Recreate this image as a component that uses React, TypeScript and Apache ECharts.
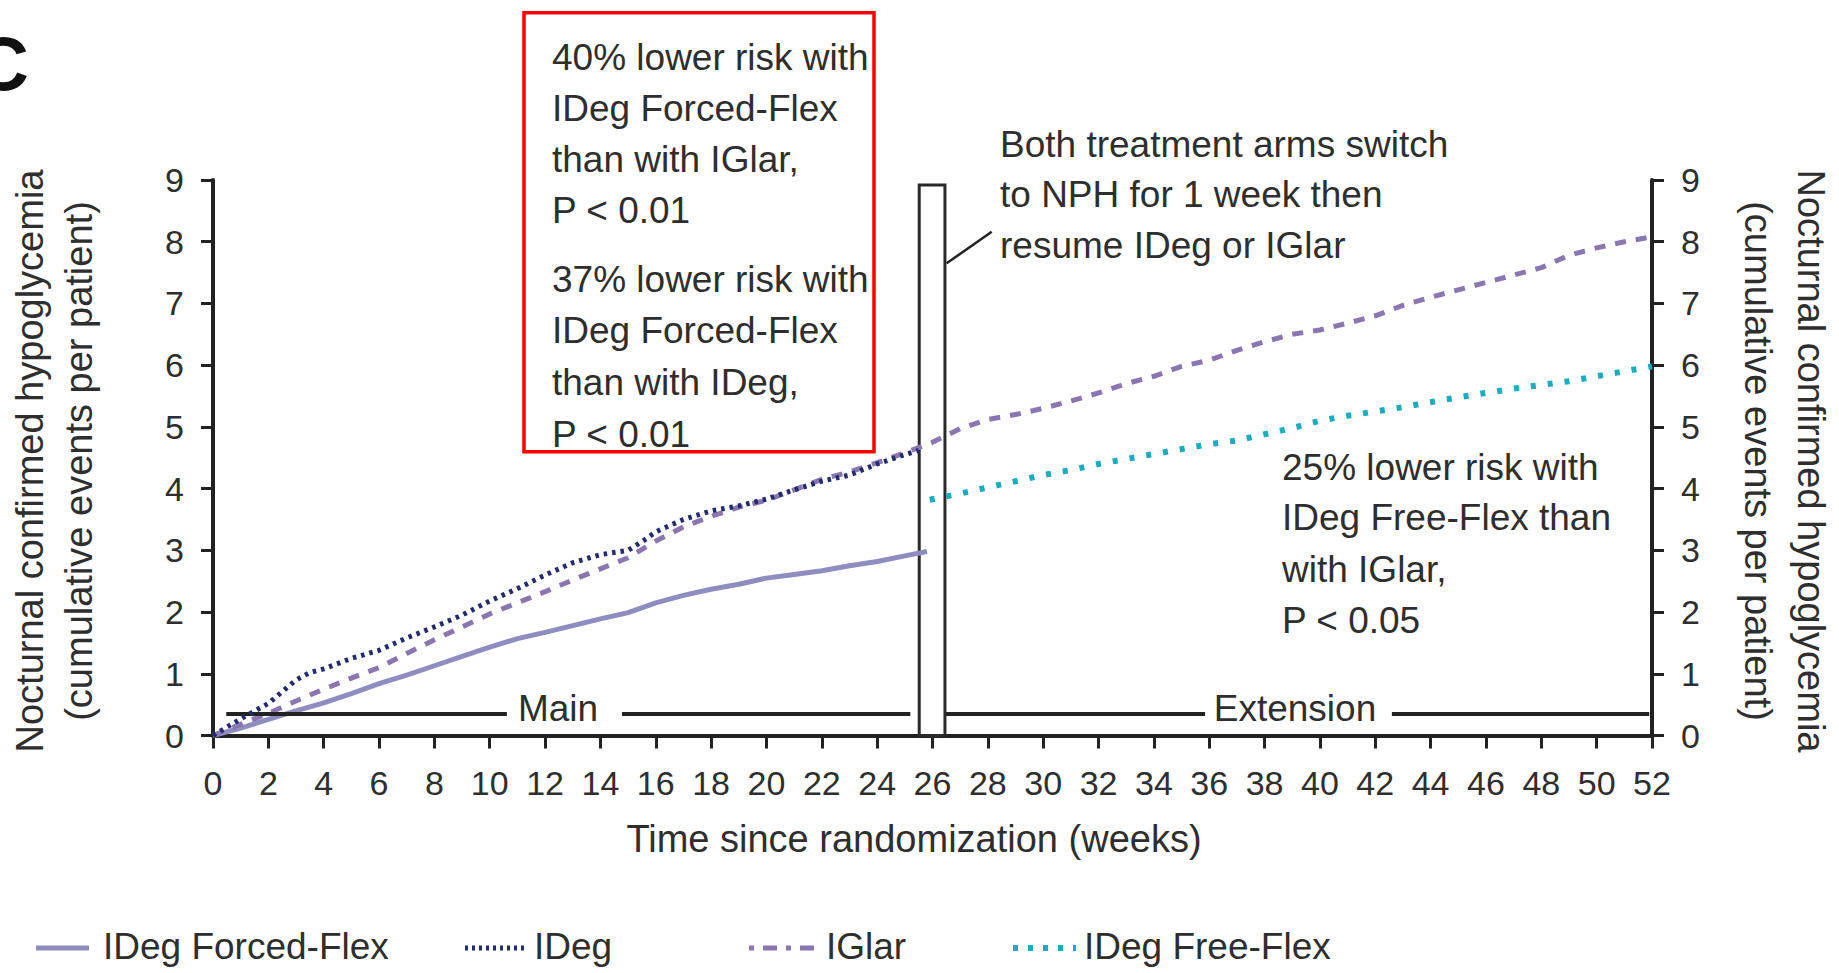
import React, { useEffect, useRef } from "react";
import * as echarts from "echarts";

const FONT = "'Liberation Sans', Arial, Helvetica, sans-serif";
const TEXT = "#2e2e2e";
const AXIS = "#222222";

// Cumulative nocturnal confirmed hypoglycemic events per patient, by week
const forcedFlexWeeks = [0, 1, 2, 3, 4, 5, 6, 7, 8, 9, 10, 11, 12, 13, 14, 14.6, 15, 16, 17, 18, 19, 20, 21, 22, 23, 24, 25, 25.8];
const forcedFlexValues = [0, 0.12, 0.26, 0.4, 0.53, 0.68, 0.84, 0.98, 1.13, 1.28, 1.43, 1.57, 1.67, 1.78, 1.89, 1.95, 1.99, 2.15, 2.27, 2.37, 2.45, 2.55, 2.61, 2.67, 2.75, 2.82, 2.91, 2.98];

const idegWeeks = [0, 1, 2, 3, 3.5, 4, 5, 6, 7, 8, 9, 10, 11, 12, 13, 14, 15, 15.6, 16, 17, 18, 19, 20, 21, 22, 23, 24, 25, 25.5];
const idegValues = [0, 0.27, 0.52, 0.9, 1.02, 1.08, 1.25, 1.38, 1.58, 1.76, 1.95, 2.18, 2.38, 2.6, 2.8, 2.93, 3.0, 3.17, 3.3, 3.5, 3.64, 3.72, 3.83, 3.98, 4.12, 4.22, 4.4, 4.55, 4.62];

const iglarWeeks = [0, 1, 2, 3, 4, 5, 6, 7, 8, 9, 10, 11, 12, 13, 14, 15, 16, 17, 18, 19, 20, 21, 22, 23, 24, 25, 26, 27, 28, 29, 30, 31, 32, 33, 34, 35, 36, 37, 38, 39, 40, 41, 42, 43, 44, 45, 46, 47, 48, 49, 50, 51, 52];
const iglarValues = [0, 0.18, 0.36, 0.56, 0.75, 0.93, 1.1, 1.33, 1.55, 1.76, 1.97, 2.15, 2.33, 2.52, 2.7, 2.88, 3.15, 3.38, 3.55, 3.7, 3.81, 3.98, 4.15, 4.27, 4.42, 4.58, 4.75, 4.97, 5.12, 5.2, 5.3, 5.42, 5.55, 5.7, 5.82, 5.98, 6.08, 6.24, 6.38, 6.5, 6.57, 6.68, 6.8, 6.97, 7.1, 7.22, 7.34, 7.46, 7.58, 7.78, 7.9, 8.0, 8.08];

const freeFlexWeeks = [25.9, 27, 28, 29, 30, 31, 32, 33, 34, 35, 36, 37, 38, 39, 40, 41, 42, 43, 44, 45, 46, 47, 48, 49, 50, 51, 52];
const freeFlexValues = [3.82, 3.92, 4.02, 4.12, 4.22, 4.3, 4.4, 4.48, 4.56, 4.64, 4.72, 4.78, 4.88, 4.98, 5.1, 5.18, 5.25, 5.32, 5.4, 5.48, 5.55, 5.62, 5.68, 5.74, 5.82, 5.9, 5.98];

// Study-phase markers (weeks) and the NPH switch week window
const nphWindow = [25.52, 26.45];
const nphBoxTop = 8.92;
const bracketLevel = 0.35;
const mainSegments = [[0.48, 10.62], [14.78, 25.2]];
const extensionSegments = [[26.47, 35.85], [42.6, 51.9]];
const calloutLine = [[26.51, 7.65], [28.14, 8.16]];

const seriesNames = ["IDeg Forced-Flex", "IDeg", "IGlar", "IDeg Free-Flex"];
const seriesColors = ["#8f8dc0", "#222b6e", "#8a77b2", "#1aadbf"];

const redBoxLines = [
  "40% lower risk with",
  "IDeg Forced-Flex",
  "than with IGlar,",
  "P < 0.01",
  "37% lower risk with",
  "IDeg Forced-Flex",
  "than with IDeg,",
  "P < 0.01",
];
const redBoxBaselines = [70, 121, 172, 223, 292, 343, 395, 447];

const switchLines = ["Both treatment arms switch", "to NPH for 1 week then", "resume IDeg or IGlar"];
const switchBaselines = [157, 207, 258];

const freeFlexLines = ["25% lower risk with", "IDeg Free-Flex than", "with IGlar,", "P < 0.05"];
const freeFlexBaselines = [480, 530, 582, 633];

const zip = (xs: number[], ys: number[]) => xs.map((x, i) => [x, ys[i]]);

const textEl = (text: string, x: number, y: number, size: number, extra: any = {}) => ({
  type: "text",
  x,
  y,
  silent: true,
  z: 50,
  ...extra,
  style: {
    text,
    fill: TEXT,
    fontSize: size,
    fontFamily: FONT,
    align: extra.align || "left",
    textAlign: extra.align || "left",
    verticalAlign: "middle",
    textVerticalAlign: "middle",
    ...(extra.style || {}),
  },
});

const baselineLines = (lines: string[], baselines: number[], x: number, size: number) =>
  lines.map((t, i) => textEl(t, x, baselines[i] - size * 0.33, size));

const hSegments = (segs: number[][]) =>
  segs.map((s) => [{ coord: [s[0], bracketLevel] }, { coord: [s[1], bracketLevel] }]);

const legendItems = [
  { x1: 36, x2: 89, tx: 103, dash: null as number[] | null, width: 5 },
  { x1: 465, x2: 527, tx: 534, dash: [3, 4], width: 5 },
  { x1: 749, x2: 817, tx: 826, dash: [5, 9, 14, 9], width: 5 },
  { x1: 1013, x2: 1076, tx: 1084, dash: [5, 10], width: 6 },
];

const buildOption = () => {
  const yAxisBase = {
    type: "value",
    min: 0,
    max: 9,
    interval: 1,
    axisLine: { show: true, lineStyle: { color: AXIS, width: 4 } },
    axisTick: { show: true, inside: false, length: 12, lineStyle: { color: AXIS, width: 3 } },
    axisLabel: { color: TEXT, fontSize: 34, fontFamily: FONT, margin: 29 },
    splitLine: { show: false },
  };

  const legendGraphics: any[] = [];
  legendItems.forEach((it, i) => {
    legendGraphics.push({
      type: "line",
      silent: true,
      shape: { x1: it.x1, y1: 948, x2: it.x2, y2: 948 },
      style: { stroke: seriesColors[i], lineWidth: it.width, lineDash: it.dash || undefined },
    });
    legendGraphics.push(textEl(seriesNames[i], it.tx, 946, 37));
  });

  return {
    animation: false,
    backgroundColor: "#ffffff",
    grid: { left: 213, right: 187, top: 180, bottom: 237.5, containLabel: false, outerBoundsMode: "none" },
    xAxis: {
      type: "value",
      min: 0,
      max: 52,
      interval: 2,
      axisLine: { show: true, onZero: false, lineStyle: { color: AXIS, width: 4 } },
      axisTick: { show: true, inside: false, length: 13, lineStyle: { color: AXIS, width: 3 } },
      axisLabel: { color: TEXT, fontSize: 34, fontFamily: FONT, margin: 30 },
      splitLine: { show: false },
    },
    yAxis: [
      { ...yAxisBase, position: "left" },
      { ...yAxisBase, position: "right" },
    ],
    series: [
      {
        name: seriesNames[0],
        type: "line",
        data: zip(forcedFlexWeeks, forcedFlexValues),
        symbol: "none",
        smooth: false,
        lineStyle: { color: seriesColors[0], width: 5, type: "solid" },
        z: 3,
      },
      {
        name: seriesNames[2],
        type: "line",
        data: zip(iglarWeeks, iglarValues),
        symbol: "none",
        lineStyle: { color: seriesColors[2], width: 5, type: [11, 10], cap: "butt" },
        z: 4,
        markArea: {
          silent: true,
          itemStyle: { color: "rgba(0,0,0,0)", borderColor: "#2a2a2a", borderWidth: 3 },
          label: { show: false },
          data: [[{ coord: [nphWindow[0], 0] }, { coord: [nphWindow[1], nphBoxTop] }]],
        },
        markLine: {
          silent: true,
          symbol: ["none", "none"],
          label: { show: false },
          lineStyle: { color: AXIS, width: 4, type: "solid" },
          data: [
            ...hSegments(mainSegments),
            ...hSegments(extensionSegments),
            [
              { coord: calloutLine[0], lineStyle: { width: 2.5, color: AXIS, type: "solid" } },
              { coord: calloutLine[1] },
            ],
          ],
        },
      },
      {
        name: seriesNames[1],
        type: "line",
        data: zip(idegWeeks, idegValues),
        symbol: "none",
        lineStyle: { color: seriesColors[1], width: 5, type: [3.5, 5], cap: "butt" },
        z: 5,
      },
      {
        name: seriesNames[3],
        type: "line",
        data: zip(freeFlexWeeks, freeFlexValues),
        symbol: "none",
        lineStyle: { color: seriesColors[3], width: 6, type: [5, 12], cap: "butt" },
        z: 5,
      },
    ],
    graphic: [
      // panel letter
      textEl("C", -26, 63, 76, { style: { fill: "#111", fontWeight: "bold" } }),
      // axis titles
      textEl("Nocturnal confirmed hypoglycemia", 30, 461, 38, { rotation: Math.PI / 2, align: "center" }),
      textEl("(cumulative events per patient)", 79, 461, 38, { rotation: Math.PI / 2, align: "center" }),
      textEl("Nocturnal confirmed hypoglycemia", 1811, 461, 38, { rotation: -Math.PI / 2, align: "center" }),
      textEl("(cumulative events per patient)", 1758, 461, 38, { rotation: -Math.PI / 2, align: "center" }),
      textEl("Time since randomization (weeks)", 914, 839, 38, { align: "center" }),
      // phase labels
      textEl("Main", 558, 708, 37, { align: "center" }),
      textEl("Extension", 1295, 708, 37, { align: "center" }),
      // annotations
      ...baselineLines(redBoxLines, redBoxBaselines, 552, 37),
      ...baselineLines(switchLines, switchBaselines, 1000, 37),
      ...baselineLines(freeFlexLines, freeFlexBaselines, 1282, 37),
      {
        type: "rect",
        silent: true,
        z: 60,
        shape: { x: 524, y: 12.7, width: 350, height: 439 },
        style: { fill: "none", stroke: "#ff0000", lineWidth: 3.5 },
      },
      ...legendGraphics,
    ],
  };
};

export default function App() {
  const ref = useRef<HTMLDivElement>(null);

  useEffect(() => {
    if (!ref.current) return;
    const chart = echarts.init(ref.current, null, { renderer: "svg" });
    chart.setOption(buildOption() as any);
    return () => {
      chart.dispose();
    };
  }, []);

  return (
    <div
      ref={ref}
      style={{ position: "fixed", left: 0, top: 0, width: "1839px", height: "973px", background: "#ffffff" }}
    />
  );
}
